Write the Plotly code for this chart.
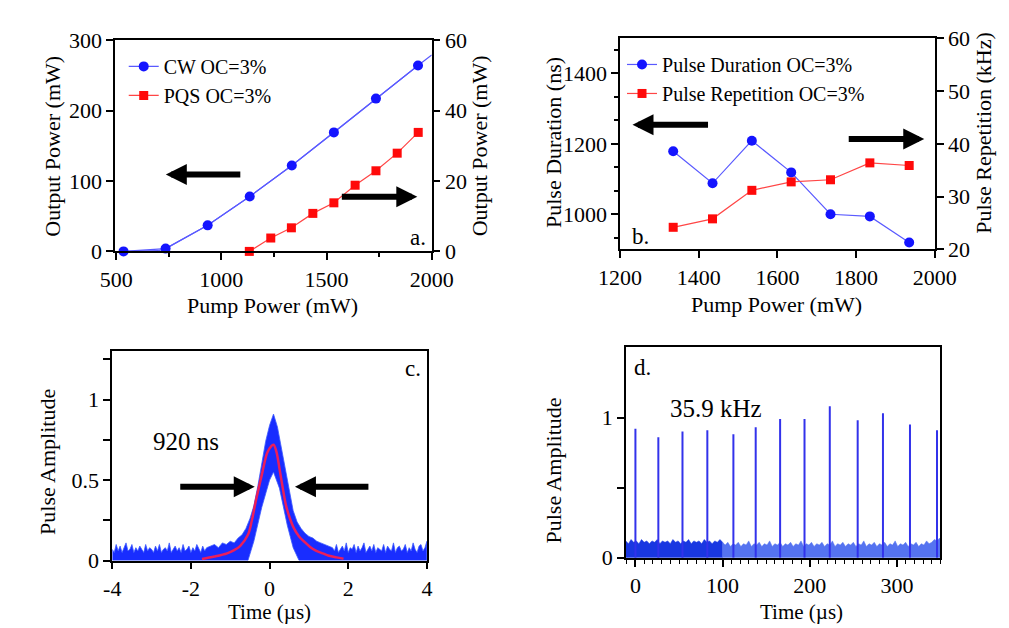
import plotly.graph_objects as go

# ---------------- data ----------------
# Panel a
CW_X = [535, 735, 935, 1135, 1335, 1535, 1735, 1935]
CW_Y = [0, 4, 37, 78, 122, 169, 217, 264]
CW_FIT_X = [535, 700, 735, 935, 1135, 1335, 1535, 1735, 1935, 2000]
CW_FIT_Y = [0, 1, 4, 37, 78, 122, 169, 217, 264, 279]
PQS_X = [1133, 1235, 1333, 1435, 1535, 1636, 1735, 1836, 1936]
PQS_Y = [0, 3.8, 6.7, 10.8, 13.8, 18.8, 22.9, 27.9, 33.8]

# Panel b
PB_X = [1335, 1435, 1535, 1635, 1735, 1835, 1935]
DUR_NS = [1179, 1088, 1209, 1119, 1000, 994, 920]
REP_KHZ = [24.2, 25.8, 31.2, 32.8, 33.2, 36.4, 35.9]

# Panel c : noisy pulse envelope (upper / lower) and red fit
C_UP_X = [-4.0, -3.95, -3.9, -3.85, -3.8, -3.75, -3.7, -3.65, -3.6, -3.55, -3.5, -3.45,
          -3.4, -3.35, -3.3, -3.25, -3.2, -3.15, -3.1, -3.05, -3.0, -2.95, -2.9, -2.85,
          -2.8, -2.75, -2.7, -2.65, -2.6, -2.55, -2.5, -2.45, -2.4, -2.35, -2.3, -2.25,
          -2.2, -2.15, -2.1, -2.05, -2.0, -1.95, -1.9, -1.85, -1.8, -1.75, -1.7, -1.65, -1.6,
          -1.5, -1.4, -1.3, -1.2, -1.1, -1.0, -0.9, -0.8, -0.7, -0.6, -0.5, -0.4, -0.3,
          -0.2, -0.1, 0.0, 0.1, 0.2, 0.3, 0.4, 0.5, 0.6, 0.7, 0.8, 0.9, 1.0, 1.1, 1.2,
          1.3, 1.4, 1.5,
          1.6, 1.65, 1.7, 1.75, 1.8, 1.85, 1.9, 1.95, 2.0, 2.05, 2.1, 2.15, 2.2, 2.25, 2.3,
          2.35, 2.4, 2.45, 2.5, 2.55, 2.6, 2.65, 2.7, 2.75, 2.8, 2.85, 2.9, 2.95, 3.0,
          3.05, 3.1, 3.15, 3.2, 3.25, 3.3, 3.35, 3.4, 3.45, 3.5, 3.55, 3.6, 3.65, 3.7,
          3.75, 3.8, 3.85, 3.9, 3.95, 4.0]
C_UP_Y = [0.07, 0.05, 0.10, 0.06, 0.09, 0.05, 0.08, 0.11, 0.06, 0.07, 0.10, 0.05,
          0.08, 0.06, 0.09, 0.07, 0.05, 0.10, 0.06, 0.08, 0.07, 0.05, 0.09, 0.06,
          0.10, 0.05, 0.07, 0.08, 0.06, 0.11, 0.05, 0.07, 0.09, 0.06, 0.08, 0.05,
          0.10, 0.06, 0.07, 0.09, 0.05, 0.08, 0.06, 0.10, 0.07, 0.05, 0.09, 0.06, 0.08,
          0.09, 0.10, 0.08, 0.11, 0.10, 0.12, 0.11, 0.14, 0.16, 0.20, 0.26, 0.34, 0.46,
          0.60, 0.74, 0.84, 0.91, 0.83, 0.70, 0.55, 0.42, 0.31, 0.24, 0.20, 0.17, 0.15,
          0.14, 0.12, 0.11, 0.10, 0.09,
          0.08, 0.06, 0.10, 0.05, 0.07, 0.09, 0.06, 0.11, 0.05, 0.08, 0.07, 0.10, 0.05,
          0.09, 0.06, 0.08, 0.11, 0.05, 0.07, 0.09, 0.06, 0.10, 0.05, 0.08, 0.07, 0.06,
          0.10, 0.05, 0.09, 0.07, 0.06, 0.11, 0.05, 0.08, 0.09, 0.06, 0.07, 0.10, 0.05,
          0.08, 0.06, 0.11, 0.07, 0.05, 0.09, 0.10, 0.06, 0.08, 0.12]
C_LO_X = [-4.0, -0.55, -0.4, -0.2, 0.0, 0.1, 0.25, 0.45, 0.6, 0.75, 4.0]
C_LO_Y = [0, 0, 0.12, 0.33, 0.50, 0.55, 0.45, 0.22, 0.08, 0, 0]
C_FIT_X = [-1.72, -1.4, -1.08, -0.9, -0.75, -0.55, -0.45, -0.35, -0.19, -0.06, 0.04,
           0.1, 0.17, 0.26, 0.42, 0.52, 0.62, 0.75, 0.87, 1.03, 1.19, 1.35, 1.51, 1.7, 1.88]
C_FIT_Y = [0.01, 0.025, 0.045, 0.065, 0.09, 0.16, 0.25, 0.37, 0.54, 0.67, 0.71,
           0.72, 0.68, 0.56, 0.34, 0.26, 0.20, 0.15, 0.12, 0.085, 0.06, 0.045, 0.03, 0.02, 0.012]

# Panel d : pulse train
D_PULSE_T = [0, 26.3, 54, 82.5, 112.4, 138, 166, 194, 223, 255, 284, 315, 346]
D_PULSE_H = [0.92, 0.86, 0.90, 0.91, 0.88, 0.93, 0.99, 0.99, 1.08, 0.98, 1.03, 0.95, 0.91]
D_NOISE_X = [-11, -8, -5, -2, 1, 4, 7, 10, 13, 16, 19, 22, 25, 28, 31, 34, 37, 40, 43, 46,
             49, 52, 55, 58, 61, 64, 67, 70, 73, 76, 79, 82, 85, 88, 91, 94, 97, 100,
             103, 106, 109, 112, 115, 118, 121, 124, 127, 130, 133, 136, 139, 142, 145,
             148, 151, 154, 157, 160, 163, 166, 169, 172, 175, 178, 181, 184, 187, 190,
             193, 196, 199, 202, 205, 208, 211, 214, 217, 220, 223, 226, 229, 232, 235,
             238, 241, 244, 247, 250, 253, 256, 259, 262, 265, 268, 271, 274, 277, 280,
             283, 286, 289, 292, 295, 298, 301, 304, 307, 310, 313, 316, 319, 322, 325,
             328, 331, 334, 337, 340, 343, 346, 349, 350]
D_NOISE_Y = [0.12, 0.10, 0.13, 0.11, 0.12, 0.10, 0.13, 0.11, 0.12, 0.10, 0.12, 0.11, 0.13,
             0.10, 0.12, 0.11, 0.12, 0.10, 0.13, 0.11, 0.12, 0.10, 0.12, 0.11, 0.13, 0.10,
             0.12, 0.11, 0.12, 0.10, 0.13, 0.11, 0.12, 0.10, 0.12, 0.11, 0.13, 0.11,
             0.09, 0.11, 0.08, 0.10, 0.09, 0.11, 0.08, 0.10, 0.09, 0.12, 0.08, 0.10, 0.09,
             0.11, 0.08, 0.10, 0.09, 0.12, 0.08, 0.10, 0.09, 0.11, 0.08, 0.10, 0.09, 0.11,
             0.08, 0.10, 0.09, 0.12, 0.08, 0.10, 0.09, 0.11, 0.08, 0.10, 0.09, 0.11, 0.08,
             0.10, 0.09, 0.12, 0.08, 0.10, 0.09, 0.11, 0.08, 0.10, 0.09, 0.11, 0.08, 0.10,
             0.09, 0.12, 0.08, 0.10, 0.09, 0.11, 0.08, 0.10, 0.09, 0.11, 0.08, 0.10, 0.09,
             0.12, 0.08, 0.10, 0.09, 0.11, 0.08, 0.10, 0.09, 0.11, 0.08, 0.10, 0.09, 0.12,
             0.10, 0.11, 0.13, 0.12, 0.14, 0.12]
D_SPLIT = 100  # noise trace is darker before ~100 us

# ---------------- styling ----------------
W, H = 1009, 628
FONT = "Liberation Serif"
BLUE = "rgb(20,20,255)"
BLUE_LINE = "rgb(90,90,255)"
RED = "rgb(255,10,10)"
RED_LINE = "rgb(255,70,70)"


def px(x):
    return x / W


def py(y):
    return 1 - y / H


fig = go.Figure()

# ---- panel a ----
fig.add_trace(go.Scatter(x=CW_FIT_X, y=CW_FIT_Y, mode="lines", line=dict(color=BLUE_LINE, width=1.2),
                         xaxis="x", yaxis="y", showlegend=False, hoverinfo="skip", cliponaxis=False))
fig.add_trace(go.Scatter(x=CW_X, y=CW_Y, mode="lines+markers", name="CW OC=3%",
                         line=dict(color=BLUE_LINE, width=1.2),
                         marker=dict(symbol="circle", size=10, color=BLUE),
                         xaxis="x", yaxis="y", legend="legend", cliponaxis=False))
fig.add_trace(go.Scatter(x=PQS_X, y=PQS_Y, mode="lines+markers", name="PQS OC=3%",
                         line=dict(color=RED_LINE, width=1.2),
                         marker=dict(symbol="square", size=9, color=RED),
                         xaxis="x", yaxis="y2", legend="legend", cliponaxis=False))

# ---- panel b ----
fig.add_trace(go.Scatter(x=PB_X, y=DUR_NS, mode="lines+markers", name="Pulse Duration OC=3%",
                         line=dict(color=BLUE_LINE, width=1.2),
                         marker=dict(symbol="circle", size=10, color=BLUE),
                         xaxis="x2", yaxis="y3", legend="legend2", cliponaxis=False))
fig.add_trace(go.Scatter(x=PB_X, y=REP_KHZ, mode="lines+markers", name="Pulse Repetition OC=3%",
                         line=dict(color=RED_LINE, width=1.2),
                         marker=dict(symbol="square", size=9, color=RED),
                         xaxis="x2", yaxis="y4", legend="legend2", cliponaxis=False))

# ---- panel c ----
poly_x = C_UP_X + C_LO_X[::-1]
poly_y = C_UP_Y + C_LO_Y[::-1]
fig.add_trace(go.Scatter(x=poly_x, y=poly_y, mode="lines", fill="toself",
                         fillcolor="rgb(25,45,255)", line=dict(color="rgb(60,90,255)", width=0.8),
                         xaxis="x3", yaxis="y5", showlegend=False, hoverinfo="skip"))
fig.add_trace(go.Scatter(x=C_FIT_X, y=C_FIT_Y, mode="lines", line=dict(color="rgb(235,30,90)", width=2.5,
                                                                       shape="spline"),
                         xaxis="x3", yaxis="y5", showlegend=False))

# ---- panel d ----
dark_idx = [i for i, t in enumerate(D_NOISE_X) if t <= D_SPLIT]
light_idx = [i for i, t in enumerate(D_NOISE_X) if t >= D_SPLIT]
for idx, col in ((dark_idx, "rgb(25,55,225)"), (light_idx, "rgb(85,115,240)")):
    xs = [D_NOISE_X[i] for i in idx]
    ys = [D_NOISE_Y[i] for i in idx]
    fig.add_trace(go.Scatter(x=xs + xs[::-1], y=ys + [0] * len(xs), mode="lines", fill="toself",
                             fillcolor=col, line=dict(color=col, width=0.5),
                             xaxis="x4", yaxis="y6", showlegend=False, hoverinfo="skip"))
sx, sy = [], []
for t, h in zip(D_PULSE_T, D_PULSE_H):
    sx += [t, t, None]
    sy += [0, h, None]
fig.add_trace(go.Scatter(x=sx, y=sy, mode="lines", line=dict(color="rgb(50,50,235)", width=2),
                         xaxis="x4", yaxis="y6", showlegend=False))

# ---------------- axes ----------------
AX = dict(showline=True, linecolor="black", linewidth=1.6, ticks="outside", ticklen=7,
          tickwidth=1.5, tickcolor="black", showgrid=False, zeroline=False,
          tickfont=dict(family=FONT, size=22, color="black"))

a_x = [px(89), px(420)]
a_y = [py(241), py(21)]
b_x = [px(617), px(946)]
b_y = [py(239), py(19)]
c_x = [px(86), px(415)]
c_y = [py(563), py(345)]
d_x = [px(623), px(952)]
d_y = [py(560), py(341)]

fig.update_layout(
    width=W, height=H, autosize=False,
    margin=dict(l=0, r=0, t=0, b=0),
    paper_bgcolor="white", plot_bgcolor="white",
    font=dict(family=FONT, size=22, color="black"),
    xaxis=dict(AX, domain=a_x, anchor="y", range=[495, 2000], tickvals=[500, 1000, 1500, 2000],
               mirror=True, minor=dict(tickvals=[750, 1250, 1750], ticks="outside", ticklen=4,
                                       tickcolor="black", tickwidth=1.5)),
    yaxis=dict(AX, domain=a_y, anchor="x", range=[0, 300], tickvals=[0, 100, 200, 300]),
    yaxis2=dict(AX, overlaying="y", side="right", anchor="x", range=[0, 60], tickvals=[0, 20, 40, 60]),
    xaxis2=dict(AX, domain=b_x, anchor="y3", range=[1200, 2000],
                tickvals=[1200, 1400, 1600, 1800, 2000], mirror=True),
    yaxis3=dict(AX, domain=b_y, anchor="x2", range=[900, 1500], tickvals=[1000, 1200, 1400],
                minor=dict(dtick=200 / 3, tick0=1000, ticks="outside", ticklen=4,
                           tickcolor="black", tickwidth=1.5)),
    yaxis4=dict(AX, overlaying="y3", side="right", anchor="x2", range=[20, 60],
                tickvals=[20, 30, 40, 50, 60]),
    xaxis3=dict(AX, domain=c_x, anchor="y5", range=[-4, 4], tickvals=[-4, -2, 0, 2, 4],
                ticktext=["-4", "-2", "0", "2", "4"], mirror=True),
    yaxis5=dict(AX, domain=c_y, anchor="x3", range=[0, 1.3], tickvals=[0, 0.5, 1],
                ticktext=["0", "0.5", "1"], mirror=True,
                minor=dict(tickvals=[0.25, 0.75, 1.25], ticks="outside", ticklen=7,
                           tickcolor="black", tickwidth=1.5)),
    xaxis4=dict(AX, domain=d_x, anchor="y6", range=[-11, 350], tickvals=[0, 100, 200, 300],
                mirror=True, minor=dict(dtick=10, tick0=0, ticks="outside", ticklen=4,
                                        tickcolor="black", tickwidth=1.2)),
    yaxis6=dict(AX, domain=d_y, anchor="x4", range=[0, 1.5], tickvals=[0, 0.5, 1],
                ticktext=["0", "", "1"], mirror=True),
    legend=dict(x=px(98), y=py(28), xanchor="left", yanchor="top", bgcolor="rgba(0,0,0,0)",
                font=dict(family=FONT, size=20, color="black"), tracegroupgap=0),
    legend2=dict(x=px(619), y=py(26), xanchor="left", yanchor="top", bgcolor="rgba(0,0,0,0)",
                 font=dict(family=FONT, size=20, color="black"), tracegroupgap=0),
)

# ---------------- annotations ----------------
ann = []


def text(x, y, s, size=22, angle=0, xanchor="center"):
    ann.append(dict(x=px(x), y=py(y), xref="paper", yref="paper", text=s, showarrow=False,
                    textangle=angle, xanchor=xanchor, yanchor="middle",
                    font=dict(family=FONT, size=size, color="black")))


def arrow(hx, hy, tx, ty):
    ann.append(dict(x=px(hx), y=py(hy), xref="paper", yref="paper", text="", showarrow=True,
                    ax=tx - hx, ay=ty - hy, arrowhead=2, arrowsize=0.7, arrowwidth=6,
                    arrowcolor="black", standoff=0))


# axis titles
text(24, 131, "Output Power (mW)", angle=-90)
text(470, 131, "Output Power (mW)", angle=-90)
text(254, 297, "Pump Power (mW)")
text(548, 128, "Pulse Duration (ns)", angle=-90)
text(997, 118, "Pulse Repetition (kHz)", angle=-90)
text(781, 296, "Pump Power (mW)")
text(18, 460, "Pulse Amplitude", angle=-90)
text(250, 617, "Time (\u00b5s)", size=21)
text(547, 469, "Pulse Amplitude", angle=-90)
text(807, 617, "Time (\u00b5s)", size=21)

# panel labels and notes
text(406, 227, "a.", size=23)
text(638, 225, "b.", size=23)
text(400, 363, "c.", size=23)
text(640, 362, "d.", size=23)
text(163, 439, "920 ns", size=25)
text(717, 405, "35.9 kHz", size=25)

# arrows
arrow(142, 161, 218, 161)
arrow(405, 184, 328, 184)
arrow(630, 109, 707, 109)
arrow(935, 124, 858, 124)
arrow(235, 486, 159, 486)
arrow(277, 486, 352, 486)

fig.update_layout(annotations=ann)

fig.write_html("out.html")
